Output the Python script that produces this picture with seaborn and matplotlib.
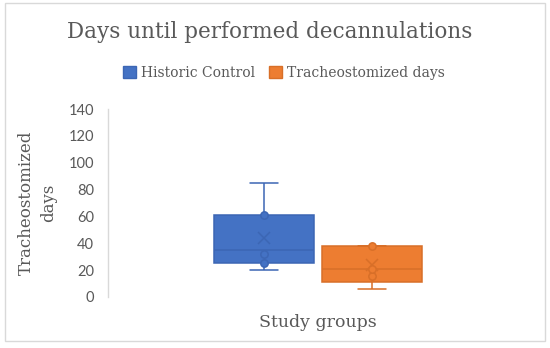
import matplotlib
matplotlib.use("Agg")
import matplotlib.pyplot as plt
import seaborn as sns
import pandas as pd
from matplotlib.patches import Rectangle

# ---- data ----
series_names = ["Historic Control", "Tracheostomized days"]
historic_values = [20, 22, 25, 32, 35, 46, 61, 70, 85]
tracheo_values = [6, 10, 11, 16, 21, 36, 38, 38, 38]
historic_inner = [25, 32, 61]
tracheo_inner = [16, 21, 38]
yticks = [0, 20, 40, 60, 80, 100, 120, 140]
colors = ["#4472C4", "#ED7D31"]
edges = ["#3C66B4", "#D86F28"]

df = pd.DataFrame({
    "group": [""] * (len(historic_values) + len(tracheo_values)),
    "series": [series_names[0]] * len(historic_values) + [series_names[1]] * len(tracheo_values),
    "value": historic_values + tracheo_values,
})
inner_df = pd.DataFrame({
    "group": [""] * (len(historic_inner) + len(tracheo_inner)),
    "series": [series_names[0]] * len(historic_inner) + [series_names[1]] * len(tracheo_inner),
    "value": historic_inner + tracheo_inner,
})

sns.set_theme(style="white")
plt.rcParams["font.family"] = ["DejaVu Sans"]
serif = ["DejaVu Serif"]
gray = "#595959"

fig = plt.figure(figsize=(5.5, 3.48), dpi=100)
W, H = 550, 348
ax = fig.add_axes([108 / W, 1 - 297 / H, 420 / W, 188 / H])

BW = 0.514
sns.boxplot(data=df, x="group", y="value", hue="series", palette=colors,
            width=BW, gap=0.07, whis=1.5, showmeans=True, fliersize=0,
            linewidth=1.1, saturation=1, legend=False, ax=ax,
            meanprops=dict(marker="x", markersize=8, markeredgewidth=1.1))

# recolor edges per series
for i, patch in enumerate(ax.patches[:2]):
    patch.set_edgecolor(edges[i])
lines = list(ax.lines)
per = len(lines) // 2
boxw = BW / 2 * (1 - 0.07)
for i in range(2):
    for ln in lines[i * per:(i + 1) * per]:
        ln.set_color(edges[i])
        ln.set_markeredgecolor(edges[i])
        xd, yd = list(ln.get_xdata()), list(ln.get_ydata())
        if len(xd) == 2 and yd[0] == yd[1] and abs(xd[1] - xd[0]) < 0.9 * boxw:
            c = (xd[0] + xd[1]) / 2
            half = 0.28 * boxw / 2
            ln.set_xdata([c - half, c + half])

# inner points
for i, name in enumerate(series_names):
    sub = inner_df[inner_df.series == name]
    off = (-1 if i == 0 else 1) * BW / 4
    ax.scatter([off] * len(sub), sub["value"], s=28, facecolor=colors[i],
               edgecolor=edges[i], linewidth=1.1, zorder=5)

ax.set_ylim(0, 140)
ax.set_xlim(-0.5, 0.5)
ax.set_yticks(yticks)
ax.set_yticklabels([str(t) for t in yticks], color=gray, fontsize=10.5, family=["Lato", "DejaVu Sans"])
ax.tick_params(axis="y", length=0, pad=10)
ax.set_xticks([])
for s in ["top", "right", "bottom"]:
    ax.spines[s].set_visible(False)
ax.spines["left"].set_color("#d9d9d9")
ax.spines["left"].set_linewidth(1)
ax.set_xlabel("Study groups", fontsize=12.5, family=serif, color=gray, labelpad=12)
ax.set_ylabel("Tracheostomized\ndays", fontsize=12, family=serif, color=gray,
              labelpad=8, linespacing=1.4)

fig.text(270 / W, 1 - 32 / H, "Days until performed decannulations", ha="center",
         va="center", fontsize=15.5, family=serif, color=gray)

handles = [Rectangle((0, 0), 1, 1, facecolor=colors[i], edgecolor=edges[i]) for i in range(2)]
fig.legend(handles, series_names, loc="center", bbox_to_anchor=(284 / W, 1 - 73 / H),
           ncol=2, frameon=False, prop={"family": serif, "size": 10},
           handlelength=0.9, handleheight=0.9, handletextpad=0.4, columnspacing=1.0,
           labelcolor=gray)

fig.patches.append(Rectangle((5 / W, 1 - 341 / H), 540 / W, 338 / H, transform=fig.transFigure,
                             fill=False, edgecolor="#d9d9d9", linewidth=1))

fig.savefig("out.png", dpi=100)
